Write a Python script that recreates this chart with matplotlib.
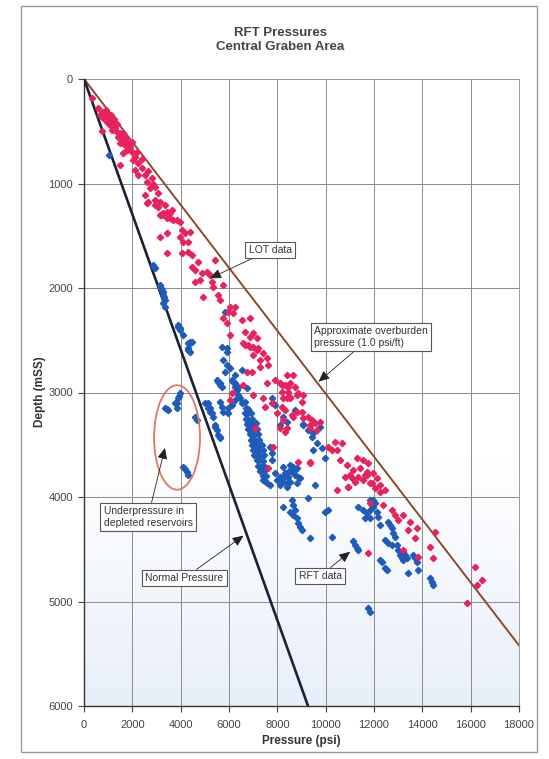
import numpy as np
import matplotlib
matplotlib.use("Agg")
import matplotlib.pyplot as plt
from matplotlib.patches import Ellipse, Rectangle

plt.rcParams['font.family'] = ['Liberation Sans', 'DejaVu Sans']

# ---------------- data ----------------
x_ticks = [0, 2000, 4000, 6000, 8000, 10000, 12000, 14000, 16000, 18000]
y_ticks = [0, 1000, 2000, 3000, 4000, 5000, 6000]

overburden_p = [0, 18000]
overburden_d = [0, 5420]
normal_p = [0, 9270]
normal_d = [0, 6000]

lot_p = [319, 592, 733, 662, 869, 799, 1006, 940, 1147, 1076, 1213, 1283, 1147, 1354, 1490, 1420,
         1561, 1627, 1490, 1697, 1834, 1904, 1768, 1971, 1627, 2111, 2041, 1490, 2248, 2111, 2389,
         2248, 2525, 2596, 2803, 2732, 2940, 3077, 2525, 2662, 2940, 3146, 3353, 3077, 3424, 3627,
         3217, 3560, 3835, 760, 900, 1100, 1250, 1350, 1600, 1750, 2000, 2200, 2400, 2650, 2850,
         2596, 2940, 3270, 3560, 3436, 3685, 3146, 3146, 3424, 3974, 4045, 4181, 4388, 3974, 4112,
         4318, 4045, 4318, 4459, 3424, 4459, 4595, 4732, 5423, 4870, 5080, 5216, 4595, 4802, 5286,
         5353, 5767, 4939, 5560, 5630, 6044, 6251, 5974, 6181, 5907, 5767, 6529, 6872, 6044, 6665,
         6872, 7009, 7150, 6595, 6802, 7009, 7216,
         6665, 6872, 7150, 7423, 7564, 7286, 7009, 7633, 6735, 6942, 7286, 8391, 8665, 7564, 7907,
         8185, 8458, 8735, 6595, 6115, 6044, 7009, 7423, 7493, 7771, 7978, 8185, 8391, 8528, 8806,
         8252, 8391, 8665, 8806, 7080, 7837, 7633,
         8114, 8321, 8528, 8185, 8458, 8872, 9079, 8252, 8528, 9009, 8321, 8599, 9009, 9079, 9286,
         9423, 9563, 9356, 9770, 8114, 8321, 9356, 9633, 10114, 10391, 10668, 10254, 10461, 10598,
         9356, 10875, 11290, 11563, 11770, 11149, 11426, 11704, 11012, 11356, 11704, 11977, 11219,
         11563, 11840, 12117, 12254,
         8872, 9356, 10805, 11082, 11633, 11911, 12047, 12254, 12461, 10461, 10942, 11840, 12392,
         12739, 12875, 13219, 13012, 13496, 13773, 13426, 14531, 13703, 14324, 14462, 13219, 13840,
         11770, 16187, 16465, 16258, 15843]
lot_d = [185, 281, 313, 345, 329, 376, 360, 409, 392, 440, 424, 472, 488, 504, 520, 552,
         568, 600, 615, 632, 615, 648, 680, 695, 711, 743, 775, 823, 807, 871, 855,
         919, 919, 983, 950, 1046, 1030, 1094, 1110, 1174, 1158, 1174, 1206, 1222, 1270, 1254,
         1301, 1333, 1349, 500, 300, 340, 380, 430, 520, 560, 600, 700, 770, 880, 1000,
         1190, 1206, 1282, 1282, 1330, 1349, 1301, 1509, 1477, 1366, 1445, 1477, 1461, 1509, 1557,
         1557, 1668, 1653, 1684, 1668, 1796, 1828, 1748, 1732, 1860, 1844, 1876, 1940, 1924, 1940,
         1988, 1972, 2083, 2067, 2115, 2179, 2179, 2227, 2242, 2338, 2290, 2306, 2290, 2450, 2418,
         2466, 2434, 2482, 2530, 2546, 2562, 2577,
         2546, 2562, 2593, 2625, 2673, 2689, 2641, 2737, 2801, 2801, 2753, 2833, 2833, 2912, 2881,
         2928, 2945, 2945, 2928, 3008, 3072, 3024, 3056, 3136, 3104, 3199, 3136, 3056, 3056, 3024,
         3263, 3343, 3232, 3183, 3343, 3519, 3725,
         2912, 2928, 2912, 2992, 2992, 3008, 3024, 3056, 3040, 3088, 3168, 3215, 3183, 3247, 3232,
         3263, 3295, 3311, 3279, 3343, 3375, 3343, 3359, 3519, 3470, 3486, 3551, 3551, 3646,
         3662, 3694, 3630, 3646, 3678, 3742, 3726, 3758, 3790, 3806, 3790, 3774, 3854,
         3838, 3869, 3822, 3885,
         3662, 3678, 3806, 3822, 3790, 3869, 3917, 3949, 3933, 3933, 3901, 4061, 4077,
         4125, 4172, 4172, 4220, 4237, 4300, 4316, 4332, 4396, 4475, 4587, 4507, 4571,
         4539, 4667, 4795, 4842, 5017]

rft_p = [1049, 2869, 2940, 2900, 3146, 3217, 3283, 3353, 3283, 3353, 3180, 3250, 3300,
         3904, 3974, 4112, 4318, 4459, 4388, 4318, 4388, 3904, 3974, 4388, 4318,
         5837, 5701, 5907, 5907, 5767, 5907, 6044, 5837, 6251, 6115, 6529, 5630, 5701, 6251, 6388,
         5560, 5494, 5630, 6181, 6251, 6322, 6388, 6458, 6251, 6529, 6665, 6735,
         3974, 3904, 3835, 3835, 3767, 3353, 3490, 4595, 4666, 4112, 4252, 4318, 3940, 3420, 4180,
         5010, 5146, 5216, 5353, 5423, 5560, 5630, 5146, 5216, 5286, 5423, 5494, 5630,
         5630, 5701, 5767, 5974, 6115, 5974,
         6700, 6800, 6650, 6750, 6900, 6700, 6800, 6950, 6750, 6850, 7000, 7100, 6800, 6900, 7000,
         7150, 6850, 6950, 7050, 7200, 6900, 7000, 7100, 7250, 6950, 7050, 7200, 7350, 7000, 7100,
         7250, 7400, 7050, 7200, 7300, 7450, 7150, 7250, 7400, 7200, 7350, 7500, 7300, 7450, 7400,
         7550, 7500,
         7771, 7907, 7837, 8252, 8391,
         7423, 7564, 7700, 7907, 8114, 8391, 8528, 8665, 8806,
         8735, 9079, 9286, 9423, 9633, 9840, 9977, 8114, 7700, 7771, 7771,
         8252, 8528, 8599, 8321, 8458, 8735, 8872, 8114, 8252, 8528, 8806, 8942, 8391, 10942,
         7978, 8114, 8252, 8391, 8599, 8735,
         9563, 9286,
         8252, 8599, 8665, 8528, 8665, 8806, 8872, 8942, 9009, 8735,
         9356, 10254, 9977, 10114,
         11149, 11219, 11290, 11356,
         11356, 11563, 11704, 11840, 11633, 11840, 11977, 12117, 12184, 12047, 12254, 11977, 11840, 11911,
         12598, 12668, 12739, 12805, 12875, 12461, 12598, 12739, 12942,
         13012, 13082, 13149, 13219, 13356, 13286, 13219,
         13633, 13703, 13773, 13840, 13426,
         12254, 12461, 12325, 12530,
         14324, 14391, 14462,
         11770, 11840,
         9770, 9490, 9490, 9077]
rft_d = [727, 1780, 1812, 1795, 1972, 2019, 2067, 2115, 2147, 2179, 2000, 2040, 2090,
         2354, 2386, 2450, 2530, 2514, 2514, 2577, 2609, 2370, 2402, 2530, 2593,
         2227, 2562, 2577, 2609, 2689, 2737, 2769, 2801, 2833, 2881, 2785, 2912, 2945, 2912, 2945,
         2897, 2881, 2928, 2897, 2945, 2976, 3024, 3056, 3072, 3104, 3088, 2960,
         3008, 3056, 3104, 3151, 3104, 3151, 3168, 3232, 3263, 3710, 3758, 3790, 3030, 3160, 3735,
         3104, 3151, 3183, 3232, 3327, 3407, 3423, 3104, 3151, 3199, 3311, 3359, 3438,
         3088, 3136, 3183, 3151, 3120, 3199,
         3150, 3160, 3200, 3210, 3200, 3250, 3260, 3250, 3300, 3300, 3310, 3290, 3350, 3350, 3360,
         3350, 3400, 3400, 3410, 3400, 3450, 3450, 3460, 3450, 3500, 3500, 3510, 3500, 3550, 3550,
         3560, 3550, 3600, 3600, 3610, 3600, 3650, 3650, 3660, 3700, 3700, 3710, 3750, 3750, 3800,
         3800, 3850,
         3056, 3120, 3104, 3232, 3279,
         3838, 3869, 3885, 3774, 3806, 3774, 3742, 3710, 3726,
         3168, 3311, 3359, 3423, 3486, 3534, 3630, 3311, 3519, 3582, 3646,
         3710, 3694, 3758, 3774, 3806, 3790, 3806, 3806, 3854, 3854, 3869, 3822, 3901, 3901,
         3838, 3885, 3822, 3869, 3710, 3742,
         3885, 4013,
         4093, 4029, 4077, 4141, 4172, 4204, 4252, 4284, 4316, 4125,
         4396, 4380, 4141, 4125,
         4425, 4459, 4491, 4507,
         4093, 4125, 4157, 4204, 4204, 4125, 4093, 4141, 4188, 4061, 4268, 4029, 4029, 4077,
         4237, 4268, 4300, 4348, 4380, 4412, 4443, 4459, 4459,
         4507, 4555, 4587, 4603, 4587, 4555, 4523,
         4555, 4587, 4619, 4699, 4731,
         4603, 4683, 4619, 4699,
         4779, 4811, 4842,
         5065, 5097,
         3327, 3391, 3551, 3300]

# ---------------- figure ----------------
W, H = 549, 759
fig = plt.figure(figsize=(W / 100, H / 100), dpi=100)
fig.patch.set_facecolor('white')

# scanned page frame
fig.patches.append(Rectangle((21 / W, 1 - 752 / H), (537 - 21) / W, (752 - 6) / H,
                             transform=fig.transFigure, fill=False, ec='#9a9a9a', lw=1.0))

ax = fig.add_axes([84 / W, 1 - 706 / H, (519 - 84) / W, (706 - 79) / H])
ax.set_xlim(0, 18000)
ax.set_ylim(6000, 0)

# faint scan tint in lower part
grad = np.zeros((100, 2, 4))
grad[..., 0] = 0.80
grad[..., 1] = 0.86
grad[..., 2] = 0.95
grad[..., 3] = np.linspace(0.0, 0.45, 100)[:, None]
ax.imshow(grad, extent=(0, 18000, 6000, 3600), origin='upper', aspect='auto', zorder=0)

ax.set_xticks(x_ticks)
ax.set_yticks(y_ticks)
ax.grid(True, color='#8a8a8a', lw=0.7, zorder=1)
ax.set_axisbelow(True)
for s in ['top', 'right']:
    ax.spines[s].set_color('#9a9a9a')
    ax.spines[s].set_linewidth(0.7)
for s in ['left', 'bottom']:
    ax.spines[s].set_color('#333333')
    ax.spines[s].set_linewidth(1.0)
ax.tick_params(axis='both', labelsize=8, colors='#444444', length=4, width=0.8, direction='out')
ax.tick_params(axis='x', pad=6)
ax.tick_params(axis='y', pad=4)

# lines
ax.plot(overburden_p, overburden_d, color='#8a4a2a', lw=1.4, zorder=3)
ax.plot(normal_p, normal_d, color='#1b2036', lw=1.9, zorder=3)

# data
ax.plot(rft_p, rft_d, ls='none', marker='D', ms=3.2, color='#1f5bb8', mec='#1f5bb8', zorder=4)
ax.plot(lot_p, lot_d, ls='none', marker='D', ms=3.2, color='#e8225c', mec='#e8225c', zorder=5)

# ellipse for depleted reservoirs
ax.add_patch(Ellipse((3850, 3430), 1900, 1000, fill=False, ec='#e57563', lw=1.3, zorder=6))

# annotations
box = dict(boxstyle='square,pad=0.3', fc='white', ec='#555555', lw=0.8)
arr = dict(arrowstyle='-|>,head_length=0.9,head_width=0.4', color='#222222', lw=0.6,
           shrinkA=0, shrinkB=0)
tk = dict(fontsize=7.5, color='#333333', bbox=box, arrowprops=arr, zorder=7,
          ha='center', va='center', multialignment='left')
ax.annotate('LOT data', xy=(5216, 1907), xytext=(7700, 1637), **tk)
ax.annotate('Approximate overburden\npressure (1.0 psi/ft)', xy=(9700, 2897),
            xytext=(11880, 2469), **tk)
ax.annotate('Underpressure in\ndepleted reservoirs', xy=(3350, 3530),
            xytext=(2650, 4190), **tk)
ax.annotate('Normal Pressure', xy=(6600, 4370), xytext=(4160, 4775), **tk)
ax.annotate('RFT data', xy=(11012, 4523), xytext=(9770, 4756), **tk)

# titles and labels
fig.text(280 / W, 1 - 33 / H, 'RFT Pressures', ha='center', va='center',
         fontsize=9.5, fontweight='bold', color='#444444')
fig.text(280 / W, 1 - 47 / H, 'Central Graben Area', ha='center', va='center',
         fontsize=9.5, fontweight='bold', color='#444444')
fig.text(301 / W, 1 - 741 / H, 'Pressure (psi)', ha='center', va='center',
         fontsize=8.5, fontweight='bold', color='#333333')
fig.text(40 / W, 1 - 392 / H, 'Depth (mSS)', ha='center', va='center', rotation=90,
         fontsize=8.5, fontweight='bold', color='#333333')

fig.savefig('out.png', dpi=100)
